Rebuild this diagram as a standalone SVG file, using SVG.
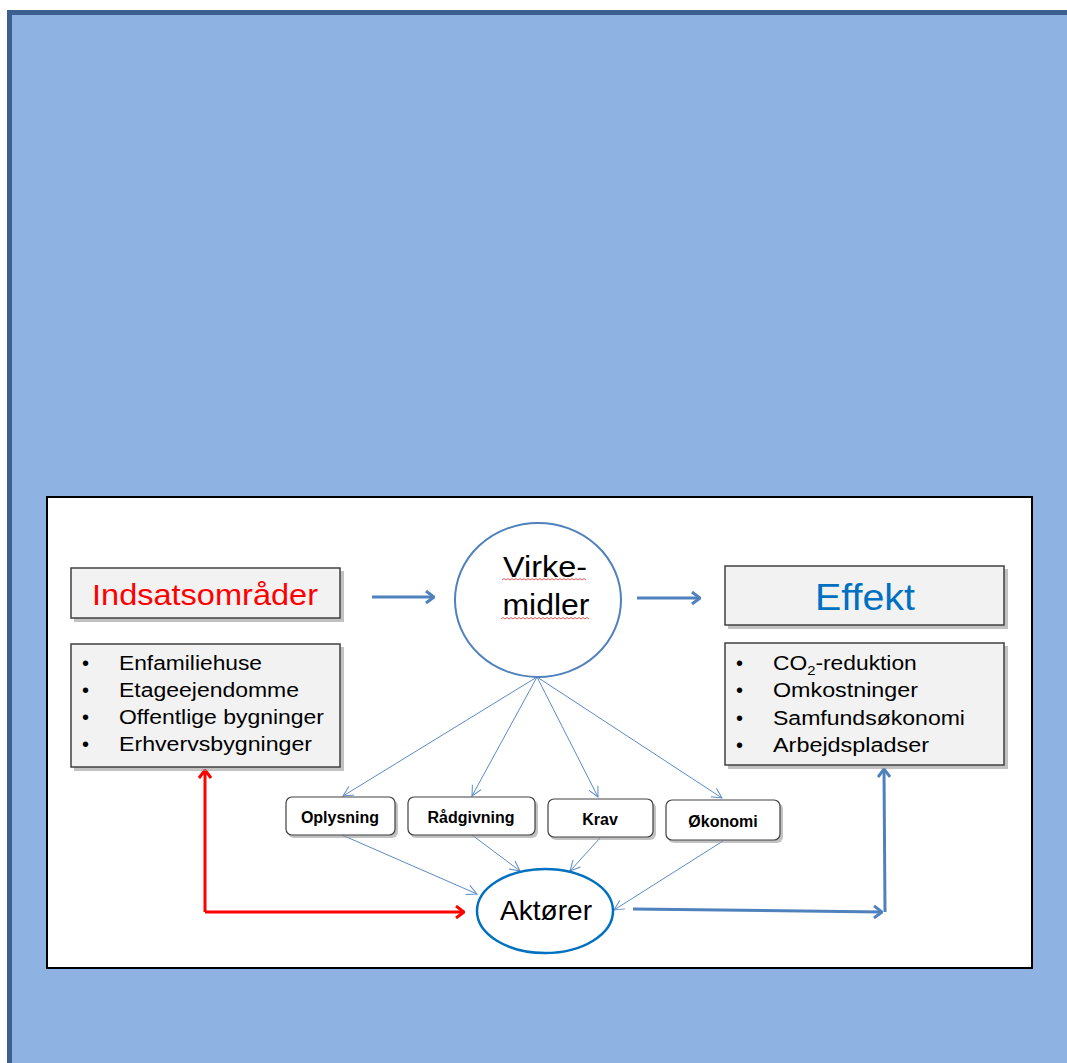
<svg xmlns="http://www.w3.org/2000/svg" width="1067" height="1063" viewBox="0 0 1067 1063">
<style>
.box{fill:#F2F2F2;stroke:#404040;stroke-width:1.5}
.shadow{fill:#9A9A9A;opacity:0.6}
.item{font-family:"Liberation Sans",Arial,sans-serif;font-size:20px;fill:#000}
.small{fill:#fff;stroke:#404040;stroke-width:1.2}
.sl{font-family:"Liberation Sans",Arial,sans-serif;font-size:16px;font-weight:bold;fill:#000;text-anchor:middle}
.thin{stroke:#5B8BC6;stroke-width:1;fill:none;marker-end:url(#open)}
.thick{stroke:#4F81BD;stroke-width:3;fill:none;marker-end:url(#blue)}
.wavy{stroke:#E03030;stroke-width:0.8;fill:none}
</style>
<defs>
<marker id="open" viewBox="0 0 12 12" refX="11" refY="6" markerWidth="12" markerHeight="12" markerUnits="userSpaceOnUse" orient="auto">
<path d="M1,1 L11,6 L1,11" fill="none" stroke="#5B8BC6" stroke-width="1"/>
</marker>
<marker id="blue" viewBox="0 0 10 14" refX="9" refY="7" markerWidth="10" markerHeight="14" markerUnits="userSpaceOnUse" orient="auto">
<path d="M1,1 L9,7 L1,13" fill="none" stroke="#4F81BD" stroke-width="3" stroke-linejoin="miter"/>
</marker>
<marker id="red" viewBox="0 0 10 14" refX="9" refY="7" markerWidth="10" markerHeight="14" markerUnits="userSpaceOnUse" orient="auto">
<path d="M1,1 L9,7 L1,13" fill="none" stroke="#FF0000" stroke-width="3"/>
</marker>
</defs>
<rect x="0" y="0" width="1067" height="1063" fill="#FFFFFF"/>
<rect x="9.5" y="12.5" width="1080" height="1080" fill="#8EB3E2" stroke="#3B5F8E" stroke-width="5"/>
<rect x="47" y="497" width="985" height="471" fill="#FFFFFF" stroke="#000" stroke-width="2"/>

<g id="connectors">
<path class="thick" d="M372,597 L434,597"/>
<path class="thick" d="M637,598 L700,598"/>
<path class="thin" d="M537,677 L343,796"/>
<path class="thin" d="M537,677 L472,796"/>
<path class="thin" d="M537,677 L598,797"/>
<path class="thin" d="M537,677 L722,798"/>
<path class="thin" d="M342,835 L477,894"/>
<path class="thin" d="M472,835 L520,871"/>
<path class="thin" d="M600,838 L570,871"/>
<path class="thin" d="M723,841 L614,910"/>
<path d="M205,912 L205,770" stroke="#FF0000" stroke-width="3" fill="none" marker-end="url(#red)"/>
<path d="M205,912 L464,912" stroke="#FF0000" stroke-width="3" fill="none" marker-end="url(#red)"/>
<path class="thick" d="M633,909 L882,912"/>
<path class="thick" d="M885,912 L884,769"/>
</g>

<g id="indsats">
<rect class="shadow" x="74" y="571" width="270" height="51"/>
<rect class="box" x="71" y="568" width="269" height="50"/>
<text x="205" y="605" font-family="Liberation Sans,Arial,sans-serif" font-size="30" fill="#FF0000" text-anchor="middle" textLength="226" lengthAdjust="spacingAndGlyphs">Indsatsområder</text>
</g>

<g id="indsats-list">
<rect class="shadow" x="74" y="647" width="270" height="124"/>
<rect class="box" x="71" y="644" width="269" height="123"/>
<g class="item">
<text x="82" y="670">•</text><text x="119" y="670" textLength="143" lengthAdjust="spacingAndGlyphs">Enfamiliehuse</text>
<text x="82" y="697">•</text><text x="119" y="697" textLength="180" lengthAdjust="spacingAndGlyphs">Etageejendomme</text>
<text x="82" y="724">•</text><text x="119" y="724" textLength="205" lengthAdjust="spacingAndGlyphs">Offentlige bygninger</text>
<text x="82" y="751">•</text><text x="119" y="751" textLength="193" lengthAdjust="spacingAndGlyphs">Erhvervsbygninger</text>
</g>
</g>

<g id="virkemidler">
<ellipse cx="538" cy="600" rx="83" ry="77" fill="#FFFFFF" stroke="#4F81BD" stroke-width="2"/>
<text x="545" y="577" font-family="Liberation Sans,Arial,sans-serif" font-size="30" fill="#000" text-anchor="middle" textLength="84" lengthAdjust="spacingAndGlyphs">Virke-</text>
<text x="546" y="615" font-family="Liberation Sans,Arial,sans-serif" font-size="30" fill="#000" text-anchor="middle" textLength="87" lengthAdjust="spacingAndGlyphs">midler</text>
<path class="wavy" d="M502,580 l2,-1.5 l2,1.5 l2,-1.5 l2,1.5 l2,-1.5 l2,1.5 l2,-1.5 l2,1.5 l2,-1.5 l2,1.5 l2,-1.5 l2,1.5 l2,-1.5 l2,1.5 l2,-1.5 l2,1.5 l2,-1.5 l2,1.5 l2,-1.5 l2,1.5 l2,-1.5 l2,1.5 l2,-1.5 l2,1.5 l2,-1.5 l2,1.5 l2,-1.5 l2,1.5 l2,-1.5 l2,1.5 l2,-1.5 l2,1.5 l2,-1.5 l2,1.5 l2,-1.5 l2,1.5 l2,-1.5 l2,1.5 l2,-1.5 l2,1.5 l2,-1.5 l2,1.5"/>
<path class="wavy" d="M501,619 l2,-1.5 l2,1.5 l2,-1.5 l2,1.5 l2,-1.5 l2,1.5 l2,-1.5 l2,1.5 l2,-1.5 l2,1.5 l2,-1.5 l2,1.5 l2,-1.5 l2,1.5 l2,-1.5 l2,1.5 l2,-1.5 l2,1.5 l2,-1.5 l2,1.5 l2,-1.5 l2,1.5 l2,-1.5 l2,1.5 l2,-1.5 l2,1.5 l2,-1.5 l2,1.5 l2,-1.5 l2,1.5 l2,-1.5 l2,1.5 l2,-1.5 l2,1.5 l2,-1.5 l2,1.5 l2,-1.5 l2,1.5 l2,-1.5 l2,1.5 l2,-1.5 l2,1.5 l2,-1.5 l2,1.5"/>
</g>

<g id="effekt">
<rect class="shadow" x="728" y="569" width="280" height="60"/>
<rect class="box" x="725" y="566" width="279" height="59"/>
<text x="865" y="610" font-family="Liberation Sans,Arial,sans-serif" font-size="36" fill="#0070C0" text-anchor="middle" textLength="100" lengthAdjust="spacingAndGlyphs">Effekt</text>
</g>

<g id="effekt-list">
<rect class="shadow" x="728" y="646" width="280" height="123"/>
<rect class="box" x="725" y="643" width="279" height="122"/>
<g class="item">
<text x="736" y="670">•</text><text transform="translate(773,670) scale(1.14,1)" x="0" y="0" font-size="20">CO<tspan font-size="13" dy="5">2</tspan><tspan font-size="20" dy="-5">-reduktion</tspan></text>
<text x="736" y="697">•</text><text x="773" y="697" textLength="145" lengthAdjust="spacingAndGlyphs">Omkostninger</text>
<text x="736" y="725">•</text><text x="773" y="725" textLength="192" lengthAdjust="spacingAndGlyphs">Samfundsøkonomi</text>
<text x="736" y="752">•</text><text x="773" y="752" textLength="156" lengthAdjust="spacingAndGlyphs">Arbejdspladser</text>
</g>
</g>

<g id="oplysning">
<rect class="shadow" x="288" y="800" width="110" height="38" rx="6"/>
<rect class="small" x="286" y="797" width="109" height="38" rx="6"/>
<text class="sl" x="340" y="823">Oplysning</text>
</g>
<g id="raadgivning">
<rect class="shadow" x="410" y="800" width="128" height="38" rx="6"/>
<rect class="small" x="408" y="797" width="127" height="38" rx="6"/>
<text class="sl" x="471" y="823">Rådgivning</text>
</g>
<g id="krav">
<rect class="shadow" x="550" y="802" width="106" height="38" rx="6"/>
<rect class="small" x="548" y="799" width="105" height="38" rx="6"/>
<text class="sl" x="600" y="825">Krav</text>
</g>
<g id="oekonomi">
<rect class="shadow" x="668" y="803" width="115" height="40" rx="6"/>
<rect class="small" x="666" y="800" width="114" height="40" rx="6"/>
<text class="sl" x="723" y="827">Økonomi</text>
</g>

<g id="aktoerer">
<ellipse cx="545" cy="911" rx="68" ry="42" fill="#FFFFFF" stroke="#0070C0" stroke-width="2.5"/>
<text x="546" y="920" font-family="Liberation Sans,Arial,sans-serif" font-size="28" fill="#000" text-anchor="middle" textLength="92" lengthAdjust="spacingAndGlyphs">Aktører</text>
</g>
</svg>
